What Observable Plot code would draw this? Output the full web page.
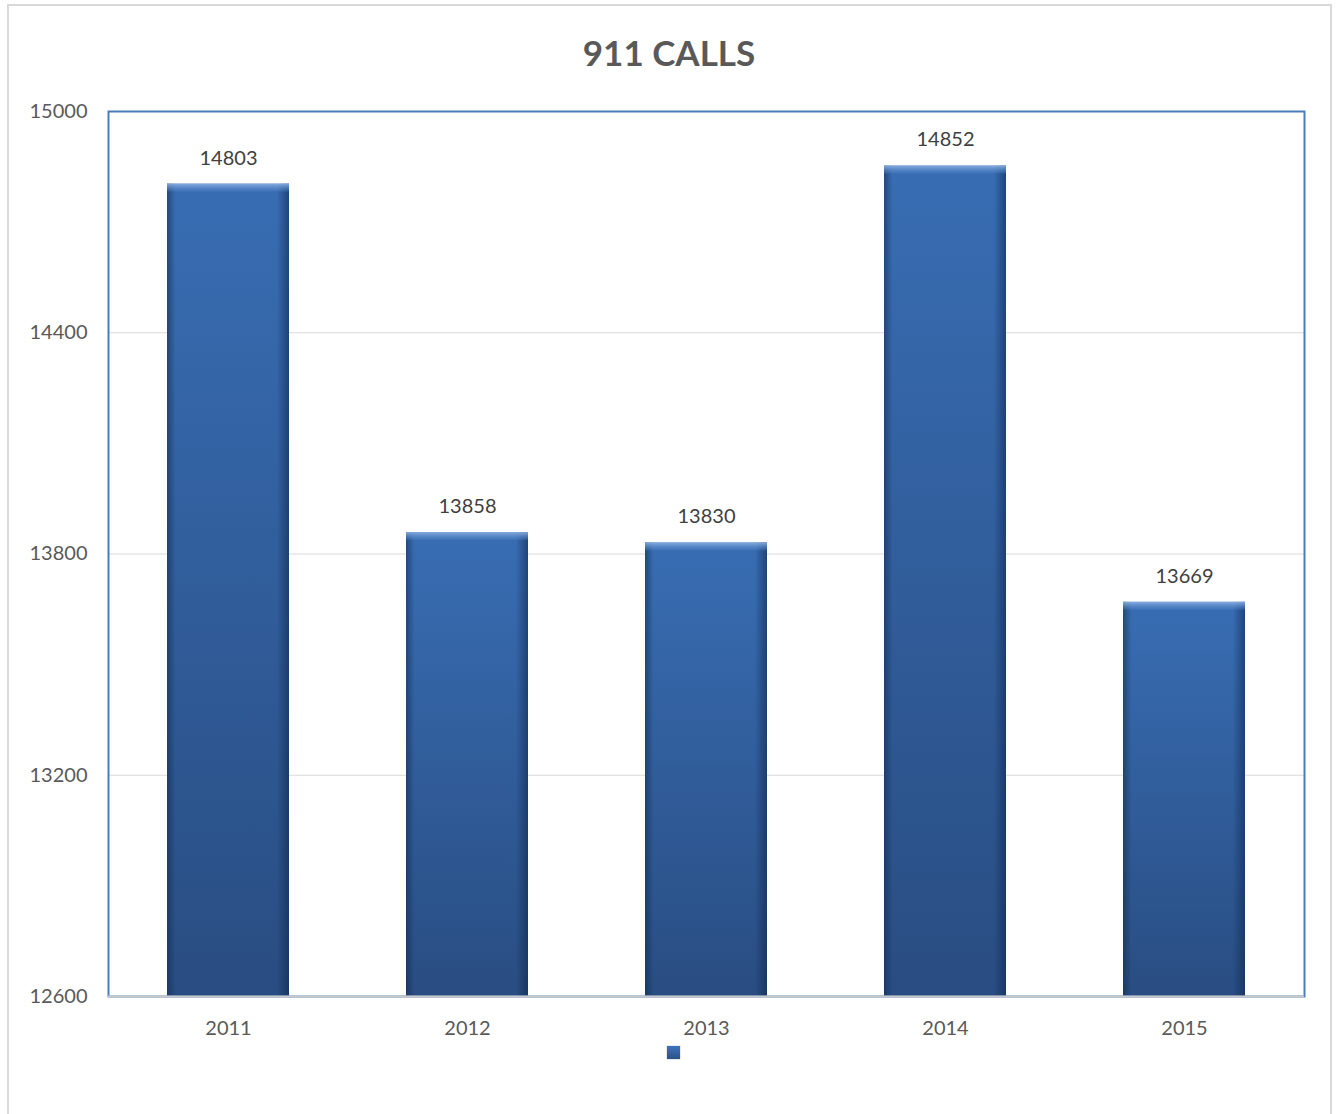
<!DOCTYPE html>
<html>
<head>
<meta charset="utf-8">
<script src="https://cdn.jsdelivr.net/npm/d3@7"></script>
<script src="https://cdn.jsdelivr.net/npm/@observablehq/plot@0.6"></script>
<style>
  html, body { margin: 0; padding: 0; background: #fff; width: 1338px; height: 1114px; overflow: hidden; }
  #frame { position: absolute; left: 7px; top: 4px; width: 1325px; height: 1140px; border: 2px solid #d9d9d9; box-sizing: border-box; }
  #title { position: absolute; left: 0; top: 30px; width: 1338px; text-align: center; font-family: Lato, "Open Sans", sans-serif; font-weight: bold; font-size: 35px; color: #595959; line-height: 44px; }
  #chart { position: absolute; left: 0; top: 80px; }
  #legend { position: absolute; left: 667px; top: 1046px; width: 13px; height: 13px; background: linear-gradient(#3d74bb, #2b5287); box-shadow: 0 0 1px rgba(0,0,0,0.5); }
</style>
</head>
<body>
<div id="frame"></div>
<div id="title">911 CALLS</div>
<div id="chart"></div>
<div id="legend"></div>
<script>
const years = ["2011", "2012", "2013", "2014", "2015"];
const calls = [14803, 13858, 13830, 14852, 13669];
const yTicks = [12600, 13200, 13800, 14400, 15000];
const yDomain = [12600, 15000];

const data = years.map((y, i) => ({year: y, calls: calls[i]}));

const plot = Plot.plot({
  width: 1338,
  height: 960,
  marginTop: 31,
  marginBottom: 44,
  marginLeft: 108,
  marginRight: 34,
  style: {fontFamily: "Lato, 'Open Sans', sans-serif", fontSize: "20px", color: "#595959", background: "transparent"},
  x: {domain: years, paddingInner: 0.49, paddingOuter: 0.245, label: null, tickSize: 0, tickPadding: 24},
  y: {domain: yDomain, ticks: yTicks, label: null, tickSize: 0, tickPadding: 21, tickFormat: d => String(d)},
  marks: [
    Plot.gridY(yTicks, {stroke: "#d9d9d9", strokeOpacity: 1, strokeWidth: 1.2}),
    Plot.barY(data, {x: "year", y1: yDomain[0], y2: "calls", fill: "url(#barGrad)", style: "filter: drop-shadow(0px 1px 2px rgba(0,0,0,0.35))"}),
    Plot.barY(data, {x: "year", y1: yDomain[0], y2: "calls", fill: "url(#edgeGrad)"}),
    Plot.barY(data, {x: "year", y1: "calls", y2: "calls", insetBottom: -8, fill: "url(#topGrad)"}),
    Plot.text(data, {x: "year", y: "calls", text: d => String(d.calls), dy: -26, fill: "#404040", fontSize: 20}),
    Plot.frame({stroke: "#4a7ebb", strokeWidth: 2}),
    Plot.ruleY([yDomain[0]], {stroke: "#c8c8c8", strokeWidth: 2})
  ]
});

const svg = d3.select(plot);
const defs = svg.insert("defs", ":first-child");
const g1 = defs.append("linearGradient").attr("id", "barGrad").attr("x1", 0).attr("y1", 0).attr("x2", 0).attr("y2", 1);
g1.append("stop").attr("offset", "0%").attr("stop-color", "#386db3");
g1.append("stop").attr("offset", "100%").attr("stop-color", "#294d82");
const g2 = defs.append("linearGradient").attr("id", "edgeGrad").attr("x1", 0).attr("y1", 0).attr("x2", 1).attr("y2", 0);
g2.append("stop").attr("offset", "0%").attr("stop-color", "#0c2547").attr("stop-opacity", 0.5);
g2.append("stop").attr("offset", "7%").attr("stop-color", "#0c2547").attr("stop-opacity", 0);
g2.append("stop").attr("offset", "90%").attr("stop-color", "#0c2547").attr("stop-opacity", 0);
g2.append("stop").attr("offset", "100%").attr("stop-color", "#0c2547").attr("stop-opacity", 0.55);
const g3 = defs.append("linearGradient").attr("id", "topGrad").attr("x1", 0).attr("y1", 0).attr("x2", 0).attr("y2", 1);
g3.append("stop").attr("offset", "0%").attr("stop-color", "#8fb3e3").attr("stop-opacity", 0.9);
g3.append("stop").attr("offset", "100%").attr("stop-color", "#5a8ccf").attr("stop-opacity", 0.2);

document.getElementById("chart").appendChild(plot);
</script>
</body>
</html>
